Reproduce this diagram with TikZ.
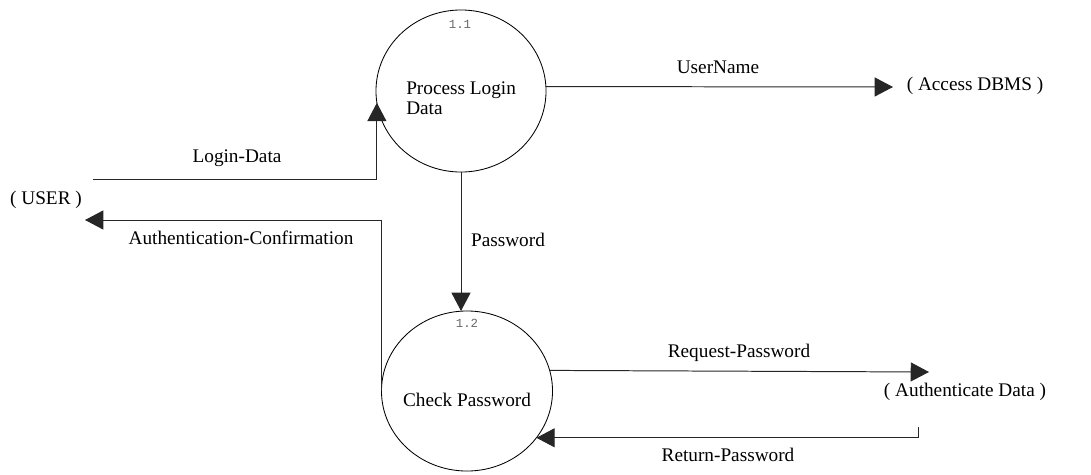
\documentclass[tikz,border=0pt]{standalone}
\usepackage{fontspec}
\setmainfont{Liberation Serif}
\newfontfamily\monofont{Liberation Mono}
\usetikzlibrary{arrows.meta,shapes.geometric}
\begin{document}
\begin{tikzpicture}[x=0.025cm, y=-0.025cm,
    every node/.style={font=\fontsize{13.7}{14.2}\selectfont, inner sep=0pt},
    proc/.style={draw, ellipse, line width=0.6pt, outer sep=0pt},
    num/.style={font=\monofont\fontsize{8.8}{9}\selectfont, text=black!60},
    flow/.style={line width=0.7pt, draw=black!85, -{Triangle[length=13pt,width=13.5pt]}}]
  \useasboundingbox (0,0) rectangle (1091,474);
  % processes
  \node [proc, minimum width=4.25cm, minimum height=4.05cm] (p11) at (461,91) {};
  \node [proc, minimum width=4.275cm, minimum height=4.0cm] (p12) at (467,391) {};
  \node [num] (n11) at (460,24) {1.1};
  \node [num] (n12) at (467,323) {1.2};
  \node [align=left, anchor=west] (t11) at (406,98) {Process Login\\Data};
  \node (t12) at (467,400) {Check Password};
  % external entities
  \node (user) at (46,200) {( USER )};
  \node (dbms) at (975,86) {( Access DBMS )};
  \node (auth) at (965,392) {( Authenticate Data )};
  \coordinate (loginstart) at (93,179);
  \coordinate (userin) at (85,220);
  \coordinate (dbmsin) at (893,87);
  \coordinate (authin) at (929,372);
  \coordinate (retstart) at (918,427);
  % flows
  \draw [flow] (loginstart) -| (p11.188);
  \draw [flow] (p12.west) |- (userin);
  \draw [flow] (p11.south) -- (p11.south |- p12.north);
  \draw [flow] (p11.3) -- (dbmsin);
  \draw [flow] (p12.14) -- (authin);
  \draw [flow] (retstart) |- (p12.-34);
  % flow labels
  \node (lbl1) at (237,158) {Login-Data};
  \node (lbl2) at (241,238) {Authentication-Confirmation};
  \node (lbl3) at (508,240) {Password};
  \node (lbl4) at (718,67) {UserName};
  \node (lbl5) at (739,353) {Request-Password};
  \node (lbl6) at (728,455) {Return-Password};
\end{tikzpicture}
\end{document}
